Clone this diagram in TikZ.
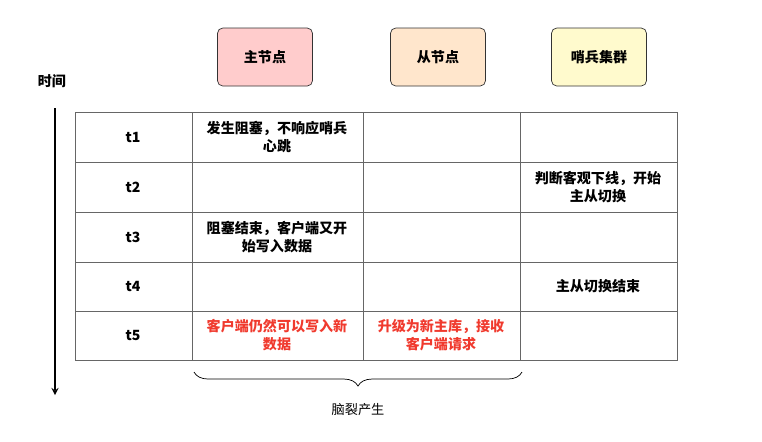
\documentclass[tikz,border=0pt]{standalone}
\usepackage{fontspec}
\setmainfont{Noto Sans CJK SC}
\usetikzlibrary{decorations.pathreplacing}
\tikzset{>=stealth}
\tikzset{role/.style={draw=black!80,rounded corners=3pt,minimum width=1.9cm,minimum height=1.16cm,font=\fontsize{8}{10}\selectfont\bfseries}}
\tikzset{cell/.style={align=center,font=\fontsize{8}{10}\selectfont\bfseries}}
\definecolor{pinkbox}{HTML}{FFCCCC}
\definecolor{orangebox}{HTML}{FFE6CC}
\definecolor{yellowbox}{HTML}{FFFACD}
\definecolor{redtext}{HTML}{F03A2E}
\begin{document}
\begin{tikzpicture}[x=0.02cm,y=-0.02cm]
  \useasboundingbox (0,0) rectangle (762,441);
  \node[role,fill=pinkbox] (master) at (265,57) {主节点};
  \node[role,fill=orangebox] (slave) at (438,57) {从节点};
  \node[role,fill=yellowbox] (sentinel) at (599,57) {哨兵集群};
  % time axis
  \node[cell] (time) at (52,81) {时间};
  \coordinate (ttop) at (55,108);
  \coordinate (tbot) at (55,395);
  \draw[->,thick] (ttop) -- (tbot);
  % table grid
  \draw[black!60] (75,112) rectangle (677,360);
  \foreach \y in {162,212,262,311} \draw[black!60] (75,\y) -- (677,\y);
  \foreach \x in {192,363,520} \draw[black!60] (\x,112) -- (\x,360);
  \foreach \t/\y in {t1/137,t2/187,t3/237,t4/286,t5/335}
    \node[cell] (\t) at (133,\y) {\t};
  \node[cell] (m1) at (277,137) {发生阻塞，不响应哨兵\\心跳};
  \node[cell] (s2) at (598,187) {判断客观下线，开始\\主从切换};
  \node[cell] (m3) at (277,237) {阻塞结束，客户端又开\\始写入数据};
  \node[cell] (s4) at (598,286) {主从切换结束};
  \node[cell,text=redtext] (m5) at (277,335) {客户端仍然可以写入新\\数据};
  \node[cell,text=redtext] (l5) at (441,335) {升级为新主库，接收\\客户端请求};
  % brace
  \coordinate (bl) at (194,372);
  \coordinate (br) at (522,372);
  \draw[decorate,decoration={brace,mirror,amplitude=8pt}] (bl) -- (br);
  \node[font=\fontsize{7.5}{9}\selectfont] (split) at (358,410) {脑裂产生};
\end{tikzpicture}
\end{document}
